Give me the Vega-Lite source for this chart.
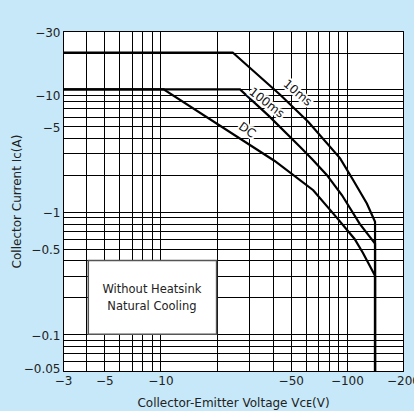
{
  "$schema": "https://vega.github.io/schema/vega-lite/v6.json",
  "width": 340,
  "height": 340,
  "autosize": "none",
  "padding": {"left": 63, "top": 31, "right": 11, "bottom": 40},
  "background": "#c6e8f8",
  "config": {
    "view": {"fill": "white", "stroke": "black", "strokeWidth": 1},
    "font": "DejaVu Sans"
  },
  "datasets": {
    "curves": [
      {"series": "10ms", "ord": 1, "vce": 3, "ic": 20},
      {"series": "10ms", "ord": 2, "vce": 24.4, "ic": 20},
      {"series": "10ms", "ord": 3, "vce": 44, "ic": 9.0},
      {"series": "10ms", "ord": 4, "vce": 62, "ic": 5.44},
      {"series": "10ms", "ord": 5, "vce": 92, "ic": 2.73},
      {"series": "10ms", "ord": 6, "vce": 108, "ic": 1.82},
      {"series": "10ms", "ord": 7, "vce": 128, "ic": 1.17},
      {"series": "10ms", "ord": 8, "vce": 141.6, "ic": 0.83},
      {"series": "10ms", "ord": 9, "vce": 141.6, "ic": 0.05},
      {"series": "100ms", "ord": 1, "vce": 3, "ic": 10},
      {"series": "100ms", "ord": 2, "vce": 26.7, "ic": 10},
      {"series": "100ms", "ord": 3, "vce": 38, "ic": 6.1},
      {"series": "100ms", "ord": 4, "vce": 56, "ic": 3.4},
      {"series": "100ms", "ord": 5, "vce": 65, "ic": 2.7},
      {"series": "100ms", "ord": 6, "vce": 78, "ic": 2.0},
      {"series": "100ms", "ord": 7, "vce": 94, "ic": 1.37},
      {"series": "100ms", "ord": 8, "vce": 117, "ic": 0.8},
      {"series": "100ms", "ord": 9, "vce": 141.6, "ic": 0.55},
      {"series": "100ms", "ord": 10, "vce": 141.6, "ic": 0.05},
      {"series": "DC", "ord": 1, "vce": 3, "ic": 10},
      {"series": "DC", "ord": 2, "vce": 10.4, "ic": 10},
      {"series": "DC", "ord": 3, "vce": 41, "ic": 2.6},
      {"series": "DC", "ord": 4, "vce": 66, "ic": 1.5},
      {"series": "DC", "ord": 5, "vce": 88, "ic": 0.9},
      {"series": "DC", "ord": 6, "vce": 110, "ic": 0.6},
      {"series": "DC", "ord": 7, "vce": 122, "ic": 0.46},
      {"series": "DC", "ord": 8, "vce": 141.6, "ic": 0.3},
      {"series": "DC", "ord": 9, "vce": 141.6, "ic": 0.05}
    ],
    "box": [
      {"vce": 4.1, "vce2": 20, "ic": 0.1, "ic2": 0.4}
    ],
    "note": [
      {"vce": 9.0, "ic": 0.23, "text": "Without Heatsink"},
      {"vce": 9.0, "ic": 0.167, "text": "Natural Cooling"}
    ],
    "labels": [
      {"vce": 54.5, "ic": 9.4, "text": "10ms", "angle": 40},
      {"vce": 37.2, "ic": 7.8, "text": "100ms", "angle": 38},
      {"vce": 29.2, "ic": 4.65, "text": "DC", "angle": 35}
    ]
  },
  "encoding": {
    "x": {
      "field": "vce",
      "type": "quantitative",
      "scale": {"type": "log", "domain": [3, 200], "nice": false},
      "axis": {
        "title": "Collector-Emitter Voltage Vᴄᴇ(V)",
        "values": [3, 4, 5, 6, 7, 8, 9, 10, 20, 30, 40, 50, 60, 70, 80, 90, 100, 200],
        "grid": true,
        "gridColor": "#000",
        "gridOpacity": 1,
        "gridWidth": 1,
        "ticks": false,
        "domain": false,
        "labelExpr": "indexof([3,5,10,50,100,200], datum.value) >= 0 ? '−' + datum.value : ''",
        "labelOverlap": false,
        "labelFlush": false,
        "labelFont": "DejaVu Sans",
        "labelFontSize": 12,
        "labelColor": "#222",
        "labelPadding": 4,
        "titleFont": "DejaVu Sans",
        "titleFontSize": 12,
        "titleFontWeight": "normal",
        "titleColor": "#222",
        "titlePadding": 11
      }
    },
    "y": {
      "field": "ic",
      "type": "quantitative",
      "scale": {"type": "log", "domain": [0.05, 30], "nice": false},
      "axis": {
        "title": "Collector Current Ic(A)",
        "values": [0.05, 0.06, 0.07, 0.08, 0.09, 0.1, 0.2, 0.3, 0.4, 0.5, 0.6, 0.7, 0.8, 0.9, 1, 2, 3, 4, 5, 6, 7, 8, 9, 10, 20, 30],
        "grid": true,
        "gridColor": "#000",
        "gridOpacity": 1,
        "gridWidth": 1,
        "ticks": false,
        "domain": false,
        "labelExpr": "indexof([0.05,0.1,0.5,1,5,10,30], datum.value) >= 0 ? '−' + datum.value : ''",
        "labelOffset": {"condition": [{"test": "datum.value == 10", "value": 6}, {"test": "datum.value < 0.06", "value": -3}], "value": 1},
        "labelOverlap": false,
        "labelFlush": false,
        "labelFont": "DejaVu Sans",
        "labelFontSize": 12,
        "labelColor": "#222",
        "labelPadding": 3,
        "titleFont": "DejaVu Sans",
        "titleFontSize": 12,
        "titleFontWeight": "normal",
        "titleColor": "#222",
        "titlePadding": 0
      }
    }
  },
  "layer": [
    {
      "data": {"name": "curves"},
      "mark": {"type": "line", "color": "black", "strokeWidth": 2.2, "strokeJoin": "miter"},
      "encoding": {
        "detail": {"field": "series", "type": "nominal"},
        "order": {"field": "ord", "type": "quantitative"}
      }
    },
    {
      "data": {"name": "box"},
      "mark": {"type": "rect", "fill": "white", "stroke": "#555", "strokeWidth": 1.5},
      "encoding": {
        "x2": {"field": "vce2"},
        "y2": {"field": "ic2"}
      }
    },
    {
      "data": {"name": "note"},
      "mark": {"type": "text", "font": "DejaVu Sans", "fontSize": 11.5, "color": "#222", "align": "center", "baseline": "middle"},
      "encoding": {
        "text": {"field": "text", "type": "nominal"}
      }
    },
    {
      "data": {"name": "labels"},
      "mark": {"type": "text", "font": "DejaVu Sans", "fontSize": 12, "fill": "white", "stroke": "white", "strokeWidth": 4, "align": "center", "baseline": "middle"},
      "encoding": {
        "text": {"field": "text", "type": "nominal"},
        "angle": {"field": "angle", "type": "quantitative", "scale": null}
      }
    },
    {
      "data": {"name": "labels"},
      "mark": {"type": "text", "font": "DejaVu Sans", "fontSize": 12, "fill": "#111", "align": "center", "baseline": "middle"},
      "encoding": {
        "text": {"field": "text", "type": "nominal"},
        "angle": {"field": "angle", "type": "quantitative", "scale": null}
      }
    }
  ]
}
